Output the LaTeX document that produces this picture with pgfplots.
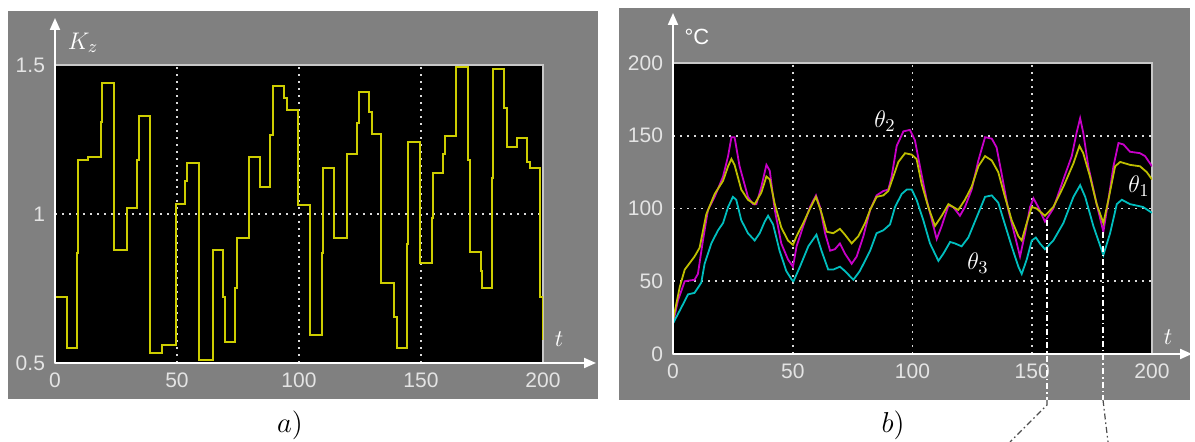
\documentclass[border=0pt]{standalone}
\usepackage{fontspec}
\setmainfont{Liberation Sans}
\usepackage{pgfplots}
\pgfplotsset{compat=1.18}
\usetikzlibrary{arrows.meta}

\definecolor{panel}{RGB}{128,128,128}
\definecolor{frameg}{RGB}{200,200,200}
\definecolor{ticktxt}{RGB}{228,228,228}
\definecolor{yel}{RGB}{205,205,0}
\definecolor{yel2}{RGB}{190,190,0}
\definecolor{mag}{RGB}{200,0,200}
\definecolor{cya}{RGB}{0,190,190}

\pgfplotsset{scope/.style={
  scale only axis, anchor=south west,
  axis background/.style={fill=black},
  axis line style={draw=frameg, line width=0.8pt},
  grid=major,
  grid style={white!85!black, line width=0.9pt, dash pattern=on 0.9pt off 2.6pt},
  tick style={draw=none},
  tick label style={text=ticktxt, font=\fontsize{10.5}{10.5}\selectfont},
  /pgf/number format/assume math mode=true,
  xmin=0, xmax=200, xtick={0,50,...,200},
  xticklabel style={yshift=-1.5pt}, yticklabel style={xshift=-1.5pt},
}}

\begin{document}
\begin{tikzpicture}
\path[use as bounding box] (0,0) rectangle (597.5pt,221pt);
\fill[panel] (4pt,21.5pt) rectangle (299pt,215.5pt);
\fill[panel] (309.5pt,21pt) rectangle (595pt,217pt);

% a) control coefficient K_z
\begin{axis}[scope, at={(27.5pt,39.5pt)}, width=244pt, height=149pt,
  ymin=0.5, ymax=1.5, ytick={0.5,1,1.5}]
\addplot[const plot, yel, line width=1pt] coordinates {
 (0,0.72) (4.8,0.55) (9,0.87) (9.3,1.18) (13.5,1.19) (19,1.31) (19.4,1.44)
 (24,0.88) (29.4,1.02) (33.5,1.18) (34.6,1.33) (38.8,0.535) (44,0.56)
 (49.5,1.035) (53.3,1.11) (54.2,1.17) (59.1,0.51) (64.9,0.88) (68.7,0.72)
 (69.7,0.57) (73.8,0.75) (74.5,0.92) (79.4,1.19) (84.2,1.09) (88.3,1.265)
 (89.2,1.43) (93.9,1.39) (95,1.35) (99.7,1.03) (104.5,0.595) (109.3,0.87)
 (109.8,1.153) (114.5,0.92) (119.5,1.20) (123.8,1.306) (124.7,1.41)
 (128.8,1.343) (129.8,1.267) (133.8,0.767) (139,0.655) (140,0.55)
 (144.2,0.90) (144.8,1.24) (149.6,0.835) (154.6,0.985) (155,1.136)
 (159.1,1.20) (159.8,1.263) (164.3,1.494) (169.4,1.18) (170,0.873)
 (174.4,0.81) (174.9,0.75) (179,1.12) (179.6,1.487) (184,1.355)
 (185.1,1.226) (189.5,1.256) (193.3,1.175) (194.5,1.153) (198.9,0.72)
 (199.8,0.58) (200,0.58)};
\end{axis}

% b) temperatures
\begin{axis}[scope, at={(336.5pt,44pt)}, width=239.5pt, height=145.5pt,
  ymin=0, ymax=200, ytick={0,50,...,200}]
\addplot[mag, line width=0.9pt] coordinates {
 (0,21)(2.1,37)(4.9,50)(9,51)(10.4,55)(12.5,78)(14.6,99)(17.4,108)(20.9,122)
 (23,136)(24.4,149)(25.7,149)(27.8,129)(31.3,108)(33.4,103)(34.8,103)(36.9,115)
 (39,130)(40.4,126)(42.5,99)(45.2,76)(48,65)(50.1,60)(51.6,74)(54.4,88)
 (57.2,101)(59.7,109)(61.4,101)(63.5,83)(65.6,71)(67.6,72)(69.7,76)(71.8,69)
 (74.6,62)(76.7,67)(79.5,81)(82.3,99)(85,109)(87.8,112)(89.9,113)(91.3,122)
 (93.4,143)(96.2,153)(98.9,154)(101,147)(103.1,129)(105.9,106)(108.7,88)
 (110.1,79)(112.2,88)(115,102)(117,101)(119.8,95)(121.9,101)(124.7,113)
 (127.5,133)(130.3,149)(133.1,148)(135.1,142)(137.2,124)(140,99)(142.8,81)
 (144.9,67)(147,83)(149.1,101)(150.5,107)(152.5,101)(155.3,91)(158.8,100)
 (163,120)(166.5,136)(168.5,152)(170,162)(171.3,152)(173.4,129)(176.9,103)
 (179.7,84)(181.8,106)(183.9,129)(186,145)(188.1,144)(190.8,139)(195,138)
 (197.1,136)(200,129)};
\addplot[yel2, line width=0.9pt] coordinates {
 (0,23)(2.8,46)(4.9,58)(9,67)(11.1,73)(13.9,96)(17.4,110)(20.9,119)(23,129)
 (24.4,134)(25.7,130)(28.5,113)(31.3,106)(34.1,103)(36.9,111)(39,122)
 (40.4,120)(42.5,103)(45.2,87)(48,78)(50.1,75)(51.6,81)(54.4,90)(57.2,100)
 (59.7,108)(62,97)(64.2,84)(66.9,83)(69.7,86)(71.8,82)(74.6,76)(77.4,81)
 (80.2,90)(82.3,99)(85,108)(87.8,109)(89.9,112)(92,122)(94.1,132)(96.9,138)
 (99.7,137)(101.7,134)(103.8,117)(106.6,101)(109.4,88)(112.2,95)(115,103)
 (117,101)(119.1,99)(121.9,106)(124.7,115)(127.5,129)(130.3,136)(133.1,133)
 (135.8,125)(138.6,108)(141.4,92)(144.2,81)(145.6,78)(147.7,90)(149.8,101)
 (151.8,100)(155.3,95)(158.8,101)(163,115)(167.2,131)(169.7,143)(171.3,138)
 (174.1,122)(176.9,103)(179.7,90)(181.8,106)(184.6,129)(186.7,132)(190.8,130)
 (195,129)(197.8,125)(200,120)};
\addplot[cya, line width=0.9pt] coordinates {
 (0,21)(3.5,32)(6.3,41)(9,42)(11.8,49)(13.2,62)(16,76)(18.8,85)(20.9,90)
 (23,101)(25,108)(26.4,106)(28.5,92)(31.3,83)(34.1,78)(36.2,83)(38.3,91)
 (39.7,95)(41.8,89)(44.5,71)(47.3,57)(49.6,51)(50.3,50)(53,60)(56.5,74)
 (59.9,82)(62,71)(64.8,58)(66.9,58)(69.7,60)(71.8,57)(75.3,51)(78,57)
 (82.3,71)(85,83)(87.8,85)(90.6,89)(92.7,101)(95.5,110)(97.6,113)(99.7,113)
 (101.7,106)(104.5,92)(107.3,76)(110.8,64)(112.9,69)(115.7,77)(117.7,76)
 (120.5,74)(123.3,80)(126.8,94)(130.3,108)(133.1,109)(135.8,104)(138.6,89)
 (141.4,74)(144.2,60)(145.6,55)(147.7,65)(149.8,78)(151.5,80)(153.2,76)
 (155.3,72)(158.8,78)(163,90)(167.2,108)(170,116)(172.1,108)(175.5,88)
 (179.7,68)(182.5,83)(185.3,103)(187.4,106)(190.8,103)(193.6,102)(196.3,101)
 (200,97)};
\end{axis}

% white axis arrows
\begin{scope}[white, line width=1pt, -{Triangle[length=6pt,width=5pt]}]
\draw (27.5pt,39.5pt) -- (27.5pt,212pt);
\draw (27.5pt,39.5pt) -- (298pt,39.5pt);
\draw (336.5pt,44pt) -- (336.5pt,214.5pt);
\draw (336.5pt,44pt) -- (596pt,44pt);
\end{scope}

% annotation lines
\begin{scope}[line width=0.6pt, dash pattern=on 3pt off 1.5pt on 0.8pt off 1.5pt]
\draw[white] (523.5pt,111pt) -- (523.5pt,21pt);
\draw[white] (551.5pt,105pt) -- (551.5pt,21pt);
\draw[black!70] (523.5pt,21pt) -- (523.5pt,18.5pt) -- (505pt,0pt);
\draw[black!70] (551.5pt,21pt) -- (554pt,0pt);
\end{scope}

% labels
\node[white] at (41.5pt,199.5pt) {\fontsize{13}{13}\selectfont$K_z$};
\node[white] at (348.5pt,202.5pt) {\fontsize{11}{11}\selectfont °C};
\node[white] at (279.5pt,51.5pt) {\fontsize{13}{13}\selectfont$t$};
\node[white] at (584pt,52.5pt) {\fontsize{13}{13}\selectfont$t$};
\node[white] at (442.5pt,160.5pt) {\fontsize{13}{13}\selectfont$\theta_2$};
\node[white] at (569.5pt,128pt) {\fontsize{13}{13}\selectfont$\theta_1$};
\node[white] at (489pt,89.5pt) {\fontsize{13}{13}\selectfont$\theta_3$};
\node at (145pt,8.5pt) {\fontsize{14}{14}\selectfont$a)$};
\node at (446.5pt,8.5pt) {\fontsize{14}{14}\selectfont$b)$};
\end{tikzpicture}
\end{document}
